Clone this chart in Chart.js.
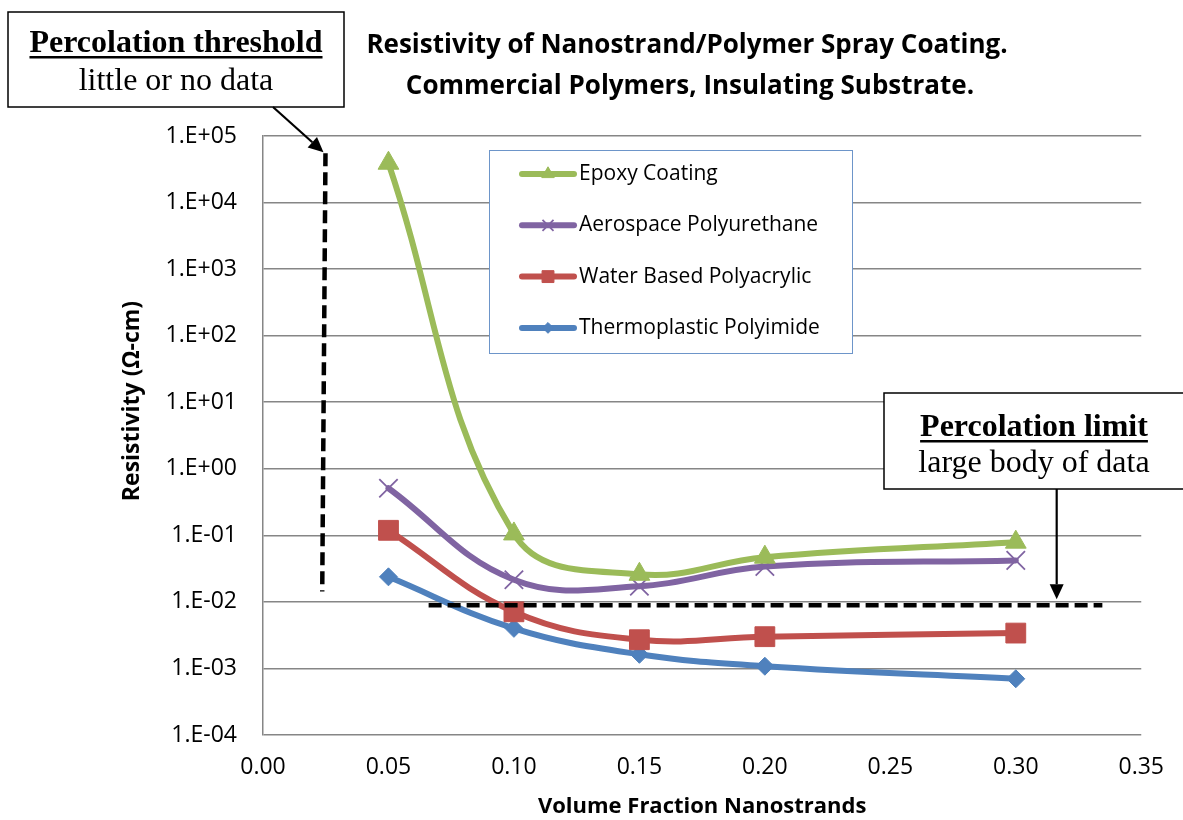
<!DOCTYPE html>
<html>
<head>
<meta charset="utf-8">
<script src="https://cdn.jsdelivr.net/npm/chart.js@4/dist/chart.umd.min.js"></script>
<style>
  body { margin: 0; background: #fff; }
  #wrap { width: 1183px; height: 820px; }
</style>
</head>
<body>
<div id="wrap"><canvas id="chart" width="1183" height="820"></canvas></div>
<script>
    // volume fraction of nanostrands
    const fractions = [0.05, 0.10, 0.15, 0.20, 0.30];

    // resistivity, ohm-cm
    const epoxy = [39000, 0.105, 0.026, 0.047, 0.079];
    const aerospace = [0.51, 0.0215, 0.0172, 0.034, 0.042];
    const waterBased = [0.119, 0.0071, 0.0027, 0.0030, 0.0034];
    const thermoplastic = [0.0238, 0.0040, 0.00163, 0.00108, 0.00070];

    const seriesNames = ['Epoxy Coating', 'Aerospace Polyurethane', 'Water Based Polyacrylic', 'Thermoplastic Polyimide'];
    const yTickValues = [1e-4, 1e-3, 1e-2, 1e-1, 1e0, 1e1, 1e2, 1e3, 1e4, 1e5];

    // dashed guide lines (data units)
    const thresholdX = [0.0249, 0.0236];     // top, bottom
    const thresholdY = [55000, 0.0143];
    const limitX = [0.066, 0.3345];
    const limitY = 0.0089;
    const limitArrowX = 0.3163;

    const sans = "'Open Sans', 'Noto Sans', sans-serif";
    const serif = "'Liberation Serif', 'DejaVu Serif', serif";
    const gridGray = '#868686';

    function sci(v) {
        let e = Math.round(Math.log10(v));
        return '1.E' + (e < 0 ? '-' : '+') + String(Math.abs(e)).padStart(2, '0');
    }

    function toPoints(values) {
        return fractions.map((x, i) => ({x: x, y: values[i]}));
    }

    function series(label, values, color, style, radius, border) {
        return {
            label: label,
            data: toPoints(values),
            borderColor: color,
            backgroundColor: color,
            borderWidth: 6,
            pointStyle: style,
            pointRadius: radius,
            pointBorderWidth: border,
            pointBackgroundColor: color,
            pointBorderColor: color,
            tension: 0.4,
            borderCapStyle: 'round'
        };
    }

    function arrow(ctx, x1, y1, x2, y2) {
        let a = Math.atan2(y2 - y1, x2 - x1);
        let len = 15, half = 7;
        let bx = x2 - Math.cos(a) * len, by = y2 - Math.sin(a) * len;
        ctx.beginPath();
        ctx.moveTo(x1, y1);
        ctx.lineTo(bx, by);
        ctx.lineWidth = 2.2;
        ctx.strokeStyle = '#000';
        ctx.stroke();
        ctx.beginPath();
        ctx.moveTo(x2, y2);
        ctx.lineTo(bx - Math.sin(a) * half, by + Math.cos(a) * half);
        ctx.lineTo(bx + Math.sin(a) * half, by - Math.cos(a) * half);
        ctx.closePath();
        ctx.fillStyle = '#000';
        ctx.fill();
    }

    function noteBox(ctx, x, y, w, h, head, sub, cx, headBase, subBase) {
        ctx.fillStyle = '#fff';
        ctx.fillRect(x, y, w, h);
        ctx.lineWidth = 1.5;
        ctx.strokeStyle = '#000';
        ctx.strokeRect(x, y, w, h);
        ctx.fillStyle = '#000';
        ctx.textAlign = 'center';
        ctx.textBaseline = 'alphabetic';
        ctx.font = 'bold 32px ' + serif;
        ctx.fillText(head, cx, headBase);
        let hw = ctx.measureText(head).width;
        ctx.fillRect(cx - hw / 2, headBase + 4, hw, 2.5);
        ctx.font = '32px ' + serif;
        ctx.fillText(sub, cx, subBase);
    }

    // titles, legend box and percolation notes
    const overlay = {
        id: 'overlay',
        afterDatasetsDraw(chart) {
            const ctx = chart.ctx;
            const xs = chart.scales.x, ys = chart.scales.y;
            ctx.save();

            // percolation threshold line
            ctx.setLineDash([13, 6]);
            ctx.lineWidth = 4.5;
            ctx.strokeStyle = '#000';
            ctx.beginPath();
            ctx.moveTo(xs.getPixelForValue(thresholdX[0]), ys.getPixelForValue(thresholdY[0]));
            ctx.lineTo(xs.getPixelForValue(thresholdX[1]), ys.getPixelForValue(thresholdY[1]));
            ctx.stroke();

            // percolation limit line
            ctx.beginPath();
            ctx.moveTo(xs.getPixelForValue(limitX[0]), ys.getPixelForValue(limitY));
            ctx.lineTo(xs.getPixelForValue(limitX[1]), ys.getPixelForValue(limitY));
            ctx.stroke();
            ctx.setLineDash([]);

            // legend
            const lx = 489, ly = 150, lw = 363, lh = 203;
            ctx.fillStyle = '#fff';
            ctx.fillRect(lx, ly, lw, lh);
            ctx.lineWidth = 1;
            ctx.strokeStyle = '#6d95c9';
            ctx.strokeRect(lx + 0.5, ly + 0.5, lw, lh);
            ctx.font = '21px ' + sans;
            ctx.textAlign = 'left';
            ctx.textBaseline = 'middle';
            chart.data.datasets.forEach((ds, i) => {
                let y = ly + 24 + i * 51.3;
                ctx.beginPath();
                ctx.moveTo(522, y);
                ctx.lineTo(574, y);
                ctx.lineWidth = 6;
                ctx.lineCap = 'round';
                ctx.strokeStyle = ds.borderColor;
                ctx.stroke();
                ctx.lineCap = 'butt';
                if (Chart.helpers && Chart.helpers.drawPoint) {
                    ctx.fillStyle = ds.borderColor;
                    ctx.lineWidth = ds.pointBorderWidth;
                    Chart.helpers.drawPoint(ctx, {pointStyle: ds.pointStyle, radius: ds.pointRadius * 0.6, borderWidth: ds.pointBorderWidth, rotation: 0}, 548, y);
                }
                ctx.fillStyle = '#000';
                ctx.fillText(ds.label, 579, y);
            });

            // notes with arrows
            noteBox(ctx, 8, 12, 336, 95, 'Percolation threshold', 'little or no data', 176, 52, 90);
            arrow(ctx, 273, 107, xs.getPixelForValue(thresholdX[0]) - 2, ys.getPixelForValue(thresholdY[0]) - 1);
            noteBox(ctx, 884, 393, 300, 96, 'Percolation limit', 'large body of data', 1034, 436, 472);
            let ax = xs.getPixelForValue(limitArrowX);
            arrow(ctx, ax, 489, ax, ys.getPixelForValue(limitY) - 6);

            // chart title
            ctx.fillStyle = '#000';
            ctx.textAlign = 'center';
            ctx.textBaseline = 'middle';
            ctx.font = 'bold 26px ' + sans;
            ctx.fillText('Resistivity of Nanostrand/Polymer Spray Coating.', 687, 46);
            ctx.fillText('Commercial Polymers, Insulating Substrate.', 690, 87);

            // y axis title
            ctx.translate(132, 401);
            ctx.rotate(-Math.PI / 2);
            ctx.font = 'bold 23px ' + sans;
            ctx.fillText('Resistivity (\u03A9-cm)', 0, 0);
            ctx.restore();
        }
    };

    const ctx = document.getElementById('chart');
    const chart = new Chart(ctx, {
        type: 'line',
        data: {
            datasets: [
                series(seriesNames[0], epoxy, '#9bbb59', 'triangle', 12, 1),
                series(seriesNames[1], aerospace, '#8064a2', 'crossRot', 13, 1.8),
                series(seriesNames[2], waterBased, '#c0504d', 'rect', 14, 1),
                series(seriesNames[3], thermoplastic, '#4f81bd', 'rectRot', 9, 1)
            ]
        },
        options: {
            responsive: false,
            animation: false,
            devicePixelRatio: 1,
            layout: { padding: { top: 136, right: 39, bottom: 0, left: 0 } },
            plugins: {
                legend: { display: false },
                tooltip: { enabled: false }
            },
            scales: {
                x: {
                    type: 'linear',
                    min: 0,
                    max: 0.35,
                    ticks: {
                        stepSize: 0.05,
                        padding: 19,
                        color: '#000',
                        font: { family: sans, size: 23 },
                        callback: v => Number(v).toFixed(2)
                    },
                    grid: { display: false, drawTicks: false },
                    border: { display: false },
                    title: {
                        display: true,
                        text: 'Volume Fraction Nanostrands',
                        color: '#000',
                        font: { family: sans, size: 22, weight: 'bold' },
                        padding: { top: 0, bottom: 0 }
                    },
                    afterFit: s => { s.height = 85; }
                },
                y: {
                    type: 'logarithmic',
                    min: 1e-4,
                    max: 1e5,
                    afterBuildTicks: s => { s.ticks = yTickValues.map(v => ({value: v})); },
                    ticks: {
                        padding: 26,
                        color: '#000',
                        font: { family: sans, size: 23 },
                        callback: v => sci(v)
                    },
                    grid: { color: gridGray, lineWidth: 1.5, drawTicks: false },
                    border: { display: true, color: gridGray, width: 1.5 },
                    afterFit: s => { s.width = 263; }
                }
            }
        },
        plugins: [overlay]
    });
</script>
</body>
</html>
